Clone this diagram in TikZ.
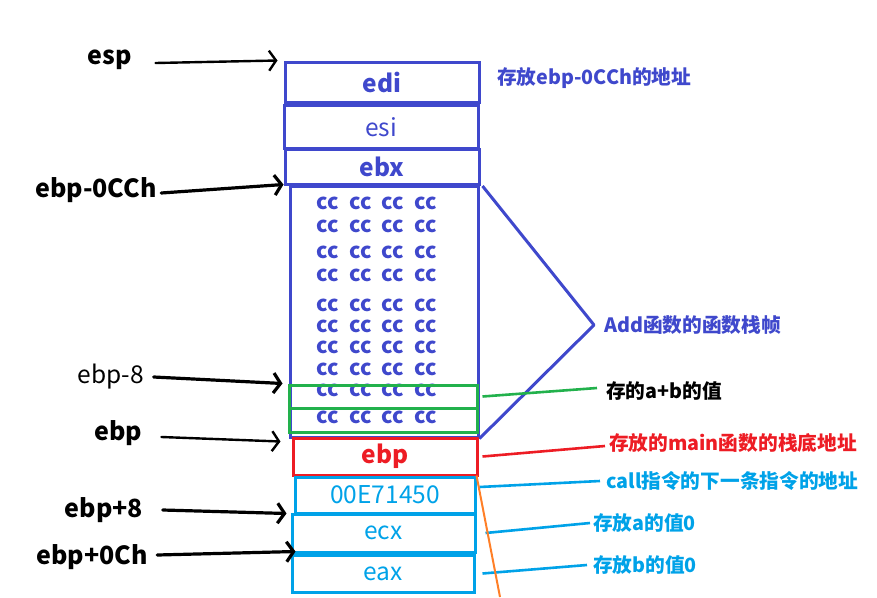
\documentclass[tikz,border=0pt]{standalone}
\usepackage{fontspec}
\setmainfont{Noto Sans CJK SC}
\usetikzlibrary{arrows.meta}
\definecolor{pblue}{HTML}{3F48CC}
\definecolor{pgreen}{HTML}{22B14C}
\definecolor{pred}{HTML}{ED1C24}
\definecolor{plblue}{HTML}{00A2E8}
\definecolor{porange}{HTML}{FF7F27}
\begin{document}
\begin{tikzpicture}[x=1pt,y=-1pt,
  cell/.style={draw=pblue, line width=3pt, inner sep=0pt, text=pblue},
  bigf/.style={font=\fontsize{25}{28}\selectfont\bfseries},
  cellf/.style={font=\fontsize{24.5}{27}\selectfont},
  boxb/.style={font=\fontsize{24.5}{27}\selectfont\bfseries},
  ccf/.style={font=\fontsize{21.5}{22}\selectfont\bfseries, text=pblue, inner sep=0pt},
  notef/.style={font=\fontsize{19.7}{22}\selectfont\bfseries, anchor=west, inner sep=0pt},
  ptr/.style={line width=3.2pt, line cap=round, -{Straight Barb[length=7pt,width=20pt]}},
  ptrthin/.style={line width=2.4pt, line cap=round, -{Straight Barb[length=7pt,width=20pt]}},
  lead/.style={line width=2.6pt}
]
\useasboundingbox (0,0) rectangle (877,597);
% stack cells
\node[cell, minimum width=194pt, minimum height=40pt, boxb] (edi) at (382,82) {edi};
\node[cell, minimum width=194pt, minimum height=43pt, cellf] (esi) at (381,127) {esi};
\node[cell, minimum width=194pt, minimum height=35pt, boxb] (ebx) at (382,167) {ebx};
\node[cell, minimum width=188pt, minimum height=251pt] (cc) at (384,311.5) {};
\foreach \yy in {203,226,252,275,305,326,347,369,390,417}
  \foreach \xx in {328,361,393,426}
    \node[ccf] at (\xx,\yy) {cc};
\node[cell, draw=pgreen, minimum width=188pt, minimum height=23pt] (g1) at (383,396.5) {};
\node[cell, draw=pgreen, minimum width=188pt, minimum height=24pt] (g2) at (383,420) {};
\node[cell, draw=pred, text=pred, minimum width=184pt, minimum height=37pt, boxb] (rebp) at (385,456.5) {ebp};
\node[cell, draw=plblue, text=plblue, minimum width=180pt, minimum height=36pt, cellf] (ret) at (385,495) {00E71450};
\node[cell, draw=plblue, text=plblue, minimum width=183pt, minimum height=38pt, cellf] (ecx) at (383.5,533) {ecx};
\node[cell, draw=plblue, text=plblue, minimum width=182pt, minimum height=37pt, cellf] (eax) at (383,573.5) {eax};
% left labels
\node[bigf] (lesp) at (110,60) {esp};
\node[bigf] (lcch) at (96,190) {ebp-0CCh};
\node[cellf] (lm8) at (111,377) {ebp-8};
\node[bigf] (lebp) at (118,433) {ebp};
\node[bigf] (lp8) at (104,510) {ebp+8};
\node[bigf] (lpc) at (92,557) {ebp+0Ch};
\draw[ptrthin] ([xshift=20pt,yshift=-3pt]lesp.east) -- ([xshift=-6pt]edi.north west);
\draw[ptr] ([xshift=1pt,yshift=-3pt]lcch.east) -- ([xshift=-5pt]cc.north west);
\draw[ptr] ([xshift=6pt]lm8.east) -- ([xshift=-5pt]g1.north west);
\draw[ptrthin] ([xshift=16pt,yshift=-4pt]lebp.east) -- ([xshift=-8pt,yshift=-3pt]cc.south west);
\draw[ptr] ([xshift=16pt]lp8.east) -- ([xshift=-4pt,yshift=-1pt]ecx.north west);
\draw[ptr] ([xshift=6pt,yshift=2pt]lpc.east) -- ([xshift=5pt,yshift=2pt]eax.north west);
% right notes
\node[notef, text=pblue] (n1) at (497,78) {存放ebp-0CCh的地址};
\node[notef, text=pblue] (nadd) at (604,325) {Add函数的函数栈帧};
\node[notef, text=black] (nab) at (606,391) {存的a+b的值};
\node[notef, text=pred] (nmain) at (609,443) {存放的main函数的栈底地址};
\node[notef, text=plblue] (ncall) at (606,481) {call指令的下一条指令的地址};
\node[notef, text=plblue] (na) at (593,523) {存放a的值0};
\node[notef, text=plblue] (nb) at (593,565) {存放b的值0};
% frame bracket
\coordinate (tip) at (594,325);
\draw[pblue, line width=3pt, line join=round] ([xshift=2pt]ebx.south east) -- (tip) -- (cc.south east);
% leaders
\draw[lead, pgreen] ([xshift=4pt]g1.east) -- ([xshift=-9pt,yshift=3pt]nab.west);
\draw[lead, pred] ([xshift=4pt]rebp.east) -- ([xshift=-4pt,yshift=-3pt]nmain.west);
\draw[lead, plblue] ([xshift=3pt,yshift=8pt]ret.east) -- ([xshift=-6pt]ncall.west);
\draw[lead, plblue] ([xshift=9pt]ecx.east) -- ([xshift=-3pt]na.west);
\draw[lead, plblue] ([xshift=7pt]eax.east) -- ([xshift=-6pt]nb.west);
\coordinate (oend) at (500,597);
\draw[line width=2pt, porange] (ret.north east) -- (oend);
\end{tikzpicture}
\end{document}
